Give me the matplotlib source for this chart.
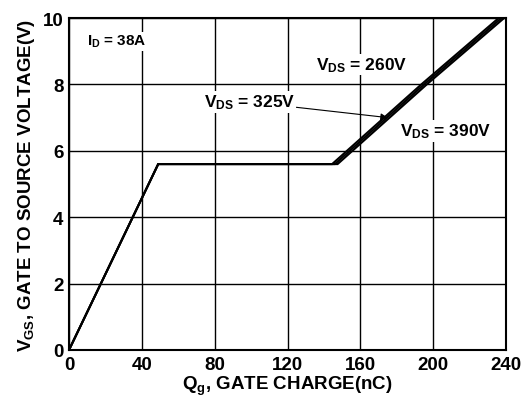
import matplotlib
matplotlib.use("Agg")
import matplotlib.pyplot as plt

plt.rcParams['font.family'] = ['Liberation Sans', 'DejaVu Sans']
plt.rcParams['font.weight'] = 'bold'
plt.rcParams['axes.labelweight'] = 'bold'
plt.rcParams['mathtext.fontset'] = 'custom'
plt.rcParams['mathtext.rm'] = 'Liberation Sans:bold'
plt.rcParams['mathtext.it'] = 'Liberation Sans:bold'
plt.rcParams['mathtext.bf'] = 'Liberation Sans:bold'

# gate charge curves (nC, V)
qg_260 = [0, 49, 144.5, 193.5, 236]
vgs_260 = [0, 5.6, 5.6, 8.0, 10]
qg_325 = [0, 49, 146, 195, 237.5]
vgs_325 = [0, 5.6, 5.6, 8.0, 10]
qg_390 = [0, 49, 147.5, 196.5, 239]
vgs_390 = [0, 5.6, 5.6, 8.0, 10]

xticks = [0, 40, 80, 120, 160, 200, 240]
yticks = [0, 2, 4, 6, 8, 10]

fig = plt.figure(figsize=(5.25, 4.06), dpi=100)
ax = fig.add_subplot(111)
fig.subplots_adjust(left=69/525, right=506/525, top=1-19/406, bottom=1-351/406)

for q, v in [(qg_260, vgs_260), (qg_325, vgs_325), (qg_390, vgs_390)]:
    ax.plot(q, v, color='black', lw=1.5, solid_joinstyle='miter', zorder=3)

ax.set_xlim(0, 240)
ax.set_ylim(0, 10)
ax.set_xticks(xticks)
ax.set_yticks(yticks)
ax.grid(True, color='black', lw=1.0)
ax.tick_params(length=0, labelsize=13.5, pad=4)
for lab in ax.get_xticklabels() + ax.get_yticklabels():
    lab.set_fontweight('bold')
for s in ax.spines.values():
    s.set_linewidth(1.5)

ax.set_xlabel(r'Q$_\mathrm{g}$, GATE CHARGE(nC)', fontsize=13.5, fontweight='bold', labelpad=1)
ax.set_ylabel(r'V$_\mathrm{GS}$, GATE TO SOURCE VOLTAGE(V)', fontsize=13.5, fontweight='bold', labelpad=4)

box = dict(facecolor='white', edgecolor='none', pad=1)
ax.text(10, 9.3, r'I$_\mathrm{D}$ = 38A', fontsize=11, fontweight='bold', va='center', ha='left', bbox=box, zorder=4)
ax.text(161, 8.6, r'V$_\mathrm{DS}$ = 260V', fontsize=12.5, fontweight='bold', va='center', ha='center', bbox=box, zorder=4)
ax.text(207, 6.6, r'V$_\mathrm{DS}$ = 390V', fontsize=12.5, fontweight='bold', va='center', ha='center', bbox=box, zorder=4)
ax.annotate(r'V$_\mathrm{DS}$ = 325V', xy=(175, 7.0), xytext=(99, 7.47),
            fontsize=12.5, fontweight='bold', va='center', ha='center', bbox=box, zorder=4,
            arrowprops=dict(arrowstyle='-|>', color='black', lw=0.8,
                            mutation_scale=10, shrinkA=0, shrinkB=0))

fig.savefig('out.png', dpi=100)
